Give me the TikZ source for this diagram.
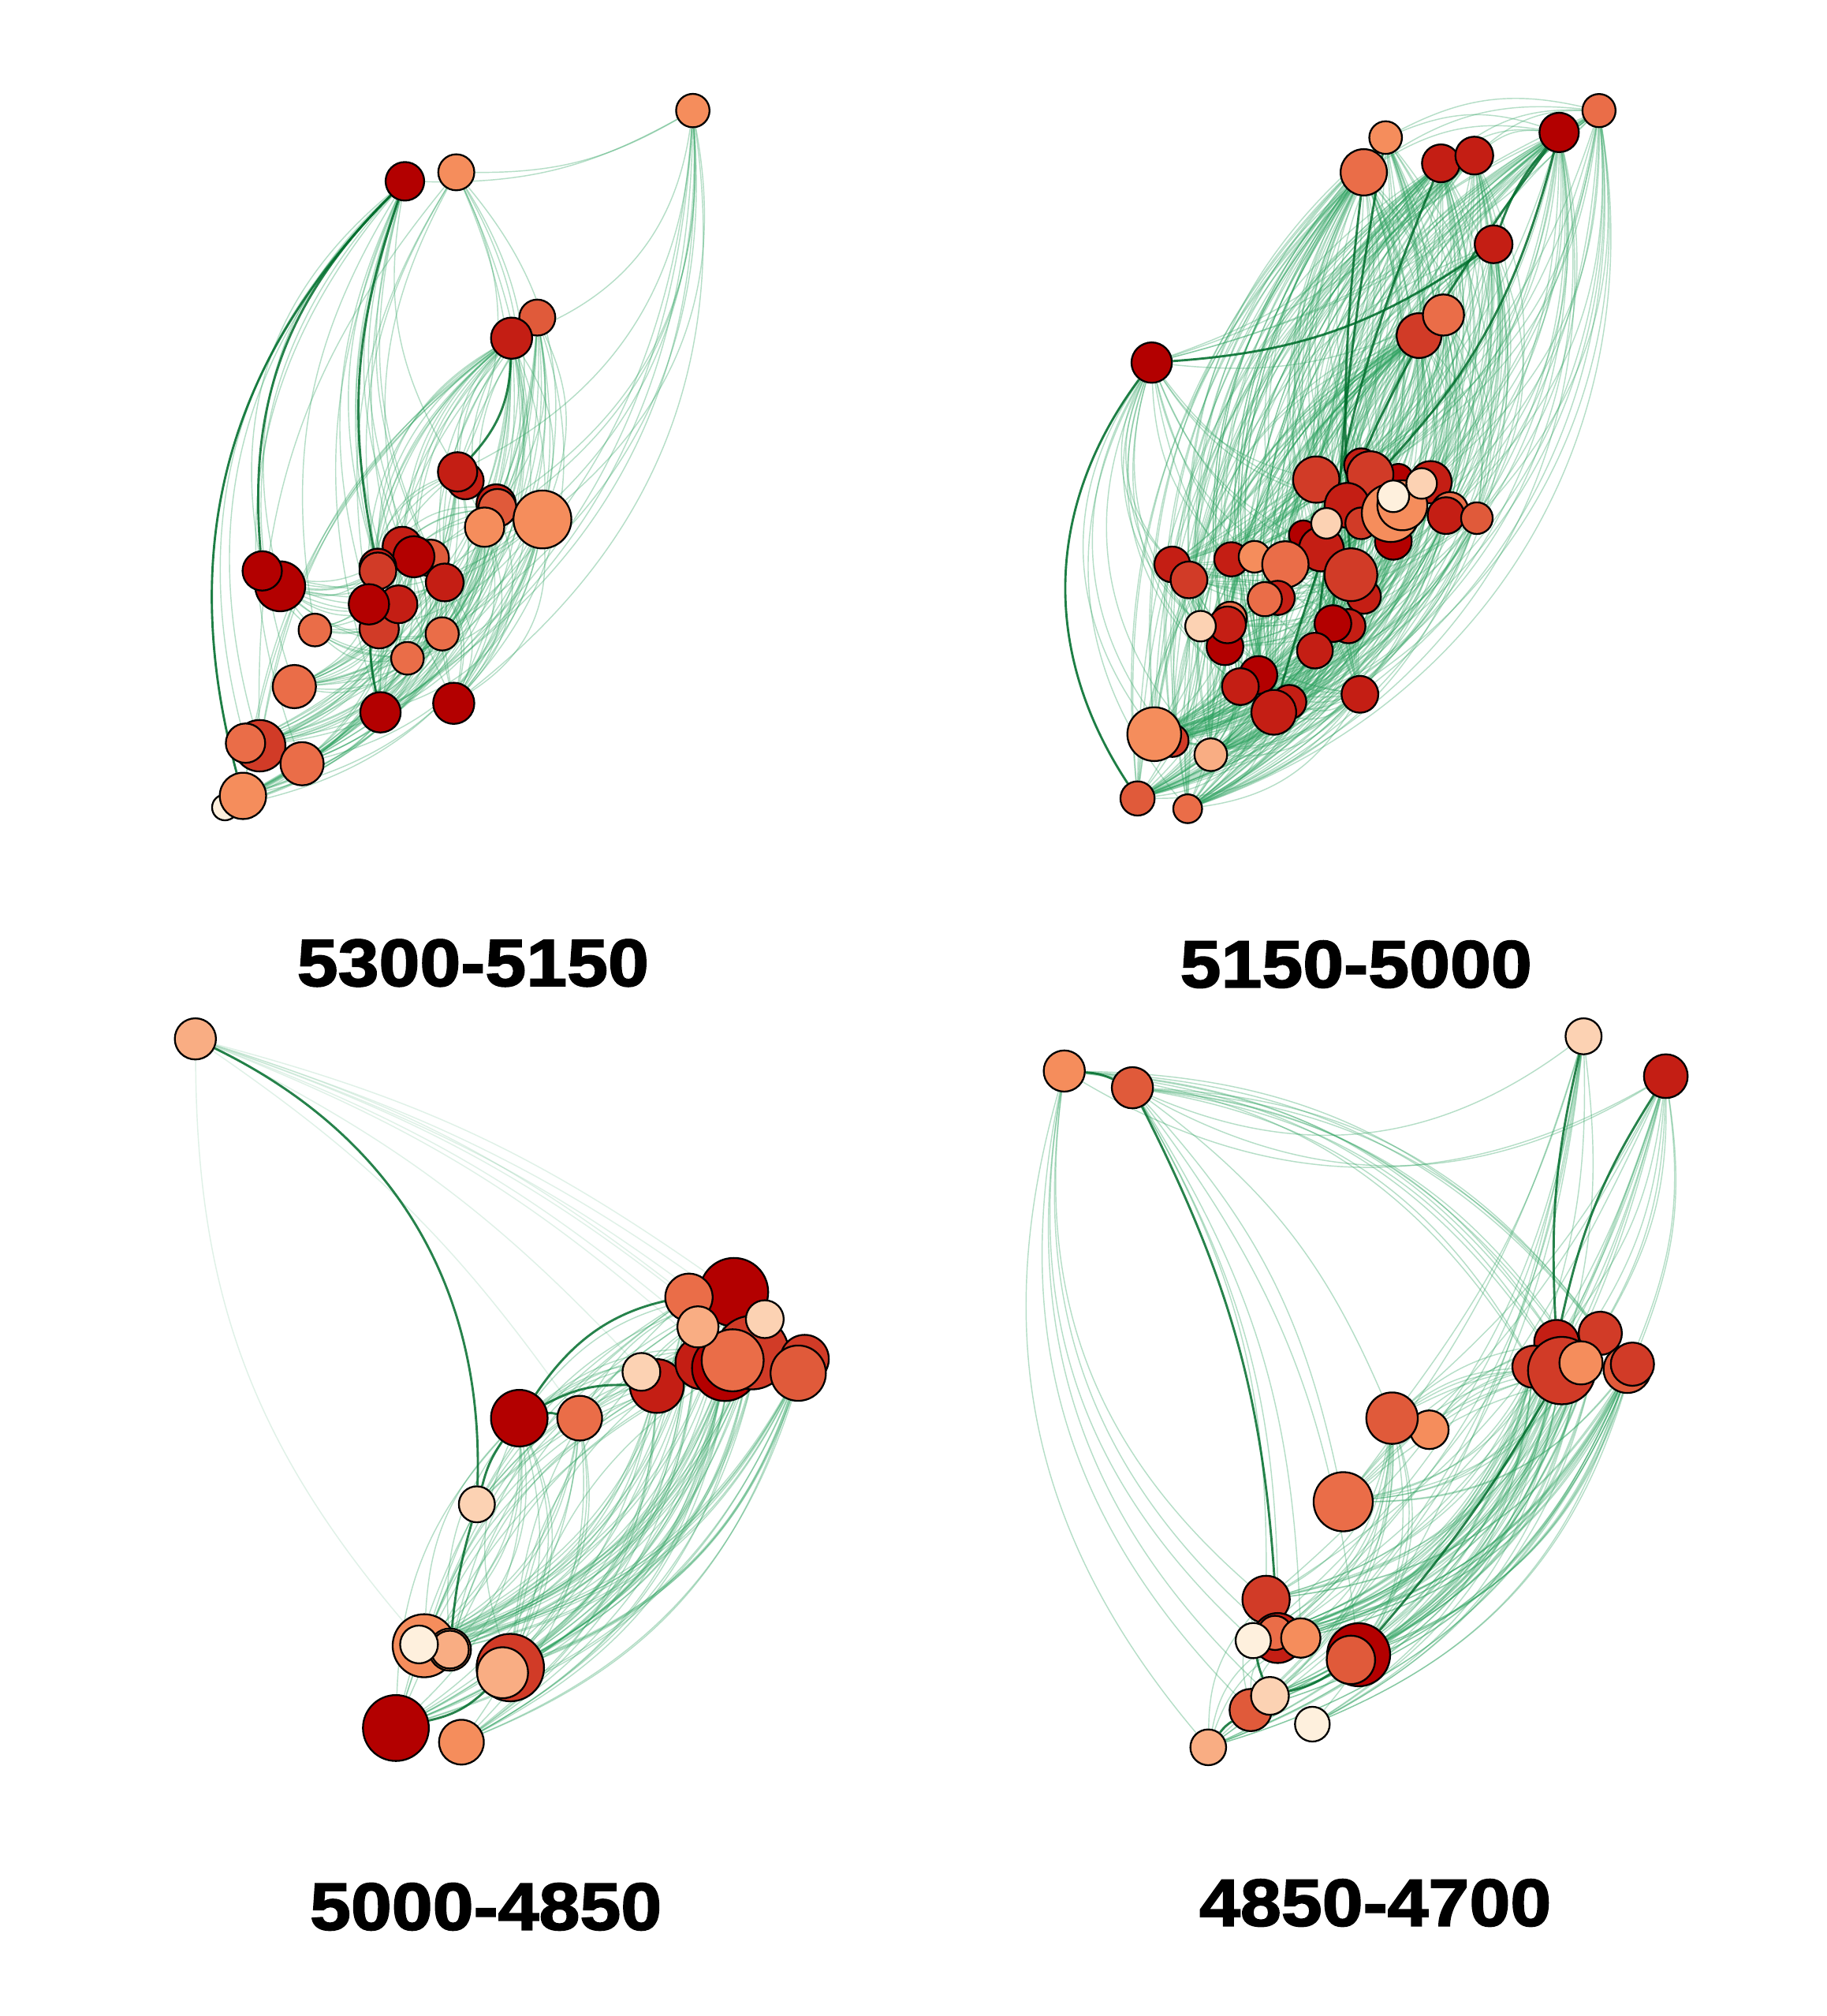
\documentclass[tikz,border=0pt]{standalone}
\usepackage{fontspec}
\newfontfamily\titlefont{Liberation Sans}[FakeStretch=1.1,FakeBold=2]
\usetikzlibrary{backgrounds}
\definecolor{c1}{HTML}{B30000}
\definecolor{c2}{HTML}{C41E14}
\definecolor{c3}{HTML}{D13B27}
\definecolor{c4}{HTML}{E05A3A}
\definecolor{c5}{HTML}{EA6D48}
\definecolor{c6}{HTML}{F58D5C}
\definecolor{c7}{HTML}{F9AD83}
\definecolor{c8}{HTML}{FCD2B3}
\definecolor{c9}{HTML}{FEF0DD}
\definecolor{edgeg}{HTML}{2CA25F}
\definecolor{edged}{HTML}{006D2C}
\tikzset{
  nd/.style={circle,draw=black,line width=0.4pt,inner sep=0pt},
  ed/.style={draw=edgeg,line width=0.25pt,draw opacity=0.35},
  edf/.style={draw=edgeg,line width=0.25pt,draw opacity=0.15},
  edd/.style={draw=edged,line width=0.5pt,draw opacity=0.85},
  ttl/.style={font=\titlefont\bfseries\fontsize{14.8}{16}\selectfont,inner sep=0pt}
}
\newcommand\Nd[5]{\node[nd,fill=#4,minimum size={#5*0.02cm}] (#1) at (#2,#3) {};}
\newcommand\Fan[3]{\foreach \sa in {#1}{\foreach \ta in {#2}{\draw[ed] (\sa) to[#3] (\ta);}}}
\newcommand\Fanf[3]{\foreach \sa in {#1}{\foreach \ta in {#2}{\draw[edf] (\sa) to[#3] (\ta);}}}
\newcommand\Dk[3]{\draw[edd] (#1) to[#3] (#2);}
\begin{document}
\begin{tikzpicture}[x=0.01cm,y=-0.01cm]
\useasboundingbox (0,0) rectangle (1421,1568);
% ---------------- panel 1
\Nd{A1}{539}{86}{c6}{13}
\Nd{A2}{315}{141}{c1}{15}
\Nd{A3}{355}{134}{c6}{14}
\Nd{A4}{418}{247}{c4}{14}
\Nd{A5}{398}{263}{c2}{16}
\Nd{A6}{362}{374}{c2}{14.3}
\Nd{A7}{356}{367}{c2}{15.3}
\Nd{A8}{386}{392}{c2}{15.3}
\Nd{A9}{387}{395}{c4}{14.7}
\Nd{A10}{377}{410}{c6}{15.3}
\Nd{A11}{422}{404}{c6}{22.5}
\Nd{A12}{313}{425}{c2}{15.3}
\Nd{A13}{335}{434}{c4}{14.3}
\Nd{A14}{322}{433}{c1}{16}
\Nd{A15}{294}{441}{c2}{14.3}
\Nd{A16}{294}{444}{c3}{14.3}
\Nd{A17}{346}{453}{c2}{14.7}
\Nd{A18}{218}{456}{c1}{19.4}
\Nd{A19}{204}{444}{c1}{15.3}
\Nd{A20}{295}{489}{c3}{15.3}
\Nd{A21}{310}{470}{c2}{14.7}
\Nd{A22}{287}{470}{c1}{15.7}
\Nd{A23}{245}{490}{c5}{12.7}
\Nd{A24}{344}{493}{c5}{12.9}
\Nd{A25}{317}{512}{c5}{12.7}
\Nd{A26}{229}{534}{c5}{16.8}
\Nd{A27}{296}{554}{c1}{15.7}
\Nd{A28}{353}{547}{c1}{16}
\Nd{A29}{202}{580}{c3}{20}
\Nd{A30}{191}{578}{c5}{15.3}
\Nd{A31}{235}{594}{c5}{16.8}
\Nd{A32}{175}{628}{c9}{10}
\Nd{A33}{189}{619}{c6}{18}
% ---------------- panel 2
\Nd{B1}{1244}{86}{c5}{12.9}
\Nd{B2}{1213}{103}{c1}{15.3}
\Nd{B3}{1078}{107}{c6}{12.7}
\Nd{B4}{1061}{134}{c5}{18}
\Nd{B5}{1121}{127}{c2}{14.7}
\Nd{B6}{1147}{121}{c2}{14.7}
\Nd{B7}{1162}{190}{c2}{14.7}
\Nd{B8}{896}{282}{c1}{15.7}
\Nd{B9}{1104}{261}{c3}{17.4}
\Nd{B10}{1123}{245}{c5}{16}
\Nd{B11}{1059}{362}{c2}{13.3}
\Nd{B12}{1088}{372}{c1}{11.2}
\Nd{B13}{1024}{373}{c3}{18}
\Nd{B14}{1066}{369}{c3}{18}
\Nd{B15}{1113}{375}{c2}{16.4}
\Nd{B16}{1048}{393}{c2}{17.4}
\Nd{B17}{1128}{397}{c5}{14.3}
\Nd{B18}{1125}{401}{c2}{14.3}
\Nd{B19}{1149}{403}{c4}{12.3}
\Nd{B20}{1059}{407}{c3}{12.3}
\Nd{B21}{1084}{421}{c1}{14.3}
\Nd{B22}{1082}{399}{c6}{22.5}
\Nd{B23}{1091}{393}{c6}{19.4}
\Nd{B24}{1084}{386}{c9}{12.3}
\Nd{B25}{1106}{376}{c8}{11.9}
\Nd{B26}{1014}{416}{c1}{11.2}
\Nd{B27}{1028}{427}{c2}{17.4}
\Nd{B29}{1061}{464}{c2}{13.3}
\Nd{B30}{1051}{447}{c3}{20.5}
\Nd{B28}{1032}{407}{c8}{11.9}
\Nd{B31}{958}{435}{c2}{13.3}
\Nd{B32}{976}{433}{c6}{12.3}
\Nd{B33}{1000}{439}{c5}{18}
\Nd{B34}{912}{439}{c2}{13.9}
\Nd{B35}{925}{451}{c3}{14.3}
\Nd{B36}{994}{465}{c2}{13.3}
\Nd{B37}{984}{466}{c5}{13.3}
\Nd{B38}{1049}{487}{c2}{13.3}
\Nd{B39}{1037}{485}{c1}{14.3}
\Nd{B40}{1023}{506}{c2}{13.9}
\Nd{B41}{953}{503}{c1}{14.3}
\Nd{B42}{957}{481}{c5}{13}
\Nd{B43}{955}{486}{c2}{14.3}
\Nd{B44}{934}{487}{c8}{11.9}
\Nd{B45}{979}{525}{c1}{14.7}
\Nd{B46}{965}{534}{c2}{14.3}
\Nd{B47}{1003}{546}{c2}{13.3}
\Nd{B48}{991}{554}{c2}{17.4}
\Nd{B49}{1058}{540}{c2}{14.3}
\Nd{B50}{912}{576}{c3}{12.7}
\Nd{B51}{898}{571}{c6}{20.9}
\Nd{B52}{942}{587}{c7}{12.7}
\Nd{B53}{885}{621}{c4}{13.3}
\Nd{B54}{924}{629}{c5}{11.2}
% ---------------- panel 3
\Nd{C1}{152}{808}{c7}{16}
\Nd{C2}{371}{1170}{c8}{14}
\Nd{C3}{404}{1103}{c1}{22}
\Nd{C4}{451}{1103}{c5}{17.4}
\Nd{C5}{511}{1078}{c2}{20.9}
\Nd{C6}{499}{1067}{c8}{14.7}
\Nd{C7}{571}{1005}{c1}{26.6}
\Nd{C8}{536}{1009}{c5}{18.4}
\Nd{C9}{546}{1060}{c2}{20.5}
\Nd{C10}{564}{1064}{c1}{25.6}
\Nd{C11}{585}{1052}{c3}{28.6}
\Nd{C15}{626}{1057}{c3}{18.8}
\Nd{C16}{621}{1068}{c4}{21.5}
\Nd{C12}{570}{1058}{c5}{24.1}
\Nd{C13}{543}{1032}{c7}{16}
\Nd{C14}{595}{1026}{c8}{14.7}
\Nd{C17}{330}{1280}{c6}{24.5}
\Nd{C18}{350}{1283}{c6}{16.4}
\Nd{C18b}{350}{1283}{c7}{14.7}
\Nd{C19}{326}{1279}{c9}{14.7}
\Nd{C20}{397}{1297}{c3}{26.2}
\Nd{C21}{391}{1301}{c7}{19.8}
\Nd{C22}{308}{1344}{c1}{25.6}
\Nd{C23}{359}{1355}{c6}{17.4}
% ---------------- panel 4
\Nd{D1}{828}{833}{c6}{16}
\Nd{D2}{881}{846}{c4}{16}
\Nd{D3}{1232}{806}{c8}{14}
\Nd{D4}{1296}{837}{c2}{17}
\Nd{D6}{1112}{1112}{c6}{15}
\Nd{D5}{1083}{1103}{c4}{20}
\Nd{D7}{1045}{1168}{c5}{23}
\Nd{D8}{1211}{1044}{c2}{17.4}
\Nd{D9}{1245}{1037}{c3}{16.8}
\Nd{D10}{1193}{1063}{c3}{16.4}
\Nd{D11}{1215}{1066}{c3}{26.2}
\Nd{D12}{1230}{1060}{c6}{16.8}
\Nd{D13}{1266}{1065}{c4}{18.4}
\Nd{D14}{1270}{1061}{c3}{16.8}
\Nd{D15}{985}{1244}{c3}{18.4}
\Nd{D16}{994}{1274}{c2}{19.4}
\Nd{D17}{992}{1270}{c5}{13.3}
\Nd{D18}{1012}{1274}{c6}{15.3}
\Nd{D19}{975}{1276}{c9}{13.7}
\Nd{D20}{1057}{1287}{c1}{24.5}
\Nd{D21}{1051}{1291}{c4}{18.8}
\Nd{D22}{973}{1330}{c4}{16.4}
\Nd{D23}{988}{1319}{c8}{14.7}
\Nd{D24}{1021}{1341}{c9}{13.5}
\Nd{D25}{940}{1359}{c7}{13.9}
% ---------------- titles
\node[ttl] (T1) at (368,749) {5300-5150};
\node[ttl] (T2) at (1055,750) {5150-5000};
\node[ttl] (T3) at (378,1483) {5000-4850};
\node[ttl] (T4) at (1070,1480) {4850-4700};
% ---------------- edges
\begin{pgfonlayer}{background}
\fill[white] (0,0) rectangle (1421,1568);
% panel 1
\Fan{A2}{A33,A29,A30,A26,A19,A18,A31}{bend right=30}
\Fan{A2}{A12,A14,A16,A22,A17,A27,A28,A21,A7,A13,A23,A25}{bend right=20}
\Fan{A2,A3}{A1}{bend right=15}
\Fan{A1}{A11,A10,A7,A9,A28,A27,A31,A33,A29,A24,A17,A5}{bend left=30}
\Fan{A3}{A11,A9,A10,A7,A28,A24}{bend left=25}
\Fan{A3}{A16,A22,A12,A29}{bend right=20}
\Fan{A4,A5}{A7,A10,A12,A14,A22,A27,A28,A29,A33,A17}{bend right=22}
\Fan{A4,A5}{A9,A11,A24,A28}{bend left=22}
\Fan{A33,A29,A30,A31,A26,A27,A28,A32,A25}{A11,A10,A9,A7,A14,A12,A17,A5,A4}{bend right=30}
\Fan{A18,A19,A23,A26}{A12,A14,A16,A17,A21,A24,A25,A11}{bend right=25}
\Fan{A22,A16,A20,A27}{A9,A11,A7,A5}{bend left=30}
\Dk{A2}{A33}{bend right=30}
\Dk{A2}{A19}{bend right=25}
\Dk{A2}{A16}{bend right=15}
\Dk{A5}{A7}{bend left=20}
\Dk{A12}{A27}{bend right=20}
% panel 2
\Fan{B8}{B53,B54,B51,B50,B52,B34,B35,B41,B46,B48,B45,B44}{bend right=35}
\Fan{B8}{B2,B1,B5,B6,B7,B10}{bend right=15}
\Fan{B8}{B13,B16,B22,B27,B31,B33,B30,B39,B40}{bend right=20}
\Fan{B51,B53,B54,B52,B50}{B1,B2,B3,B4,B5,B6,B7,B9,B10}{bend right=40}
\Fan{B51,B53,B54,B52,B50}{B11,B13,B14,B15,B16,B18,B19,B20,B21,B22,B23,B27,B30,B33,B31,B34,B35,B37,B39,B40,B41,B43,B45,B48,B49}{bend right=25}
\Fan{B51,B53,B54,B50,B52,B41,B46,B45,B48,B44}{B3,B4,B5,B6,B9,B10,B13}{bend left=25}
\Fan{B13,B16,B22,B27,B30,B33,B35,B39,B41,B45,B48,B49}{B1,B2,B3,B4,B5,B6,B7,B9,B10}{bend left=25}
\Fan{B11,B14,B15,B18,B19,B21,B31,B34,B37,B40,B43}{B1,B2,B3,B4,B5,B6,B7,B9,B10}{bend right=25}
\Fan{B2,B1}{B3,B4,B5,B6}{bend right=20}
\Fan{B34,B35,B41,B43,B46,B48,B45,B47}{B19,B15,B18,B49,B30,B22,B14,B11}{bend right=25}
\Fan{B31,B33,B37,B26,B28}{B29,B38,B19,B15}{bend left=20}
\Dk{B8}{B7}{bend right=15}
\Dk{B7}{B2}{bend left=10}
\Dk{B8}{B53}{bend right=35}
\Dk{B4}{B30}{bend right=5}
\Dk{B5}{B40}{bend right=8}
\Dk{B2}{B16}{bend left=15}
\Dk{B3}{B39}{bend right=4}
\Dk{B2}{B48}{bend right=10}
% panel 3
\Fanf{C1}{C7,C8,C10,C11,C15,C16,C5,C12,C4}{bend left=10}
\Fanf{C1}{C17}{bend right=20}
\Fan{C17,C18,C19,C20,C21,C22,C23}{C7,C8,C10,C11,C12,C15,C16,C14,C13,C5,C4,C3}{bend right=25}
\Fan{C17,C20,C22,C18}{C7,C11,C3,C5,C8}{bend left=20}
\Fan{C3,C4,C2}{C7,C11,C15,C16,C10}{bend left=20}
\Fan{C5,C6,C9}{C15,C16,C14}{bend left=25}
\Dk{C1}{C2}{bend left=33}
\Dk{C2}{C3}{bend left=10}
\Dk{C2}{C18}{bend right=5}
\Dk{C3}{C7}{bend left=25}
\Dk{C3}{C5}{bend left=15}
\Dk{C3}{C4}{bend left=10}
\Dk{C22}{C20}{bend right=15}
% panel 4
\Fan{D1,D2}{D4}{bend right=30}
\Fan{D2}{D3}{bend right=30}
\Fan{D1}{D15,D19,D22,D25,D16,D23}{bend right=28}
\Fan{D2}{D15,D16,D18,D20,D7,D5}{bend left=15}
\Fan{D1,D2}{D8,D10,D11,D12,D13,D9}{bend left=25}
\Fan{D3}{D11,D10,D5,D20,D7}{bend left=10}
\Fan{D4}{D8,D11,D13,D9,D14,D12}{bend left=15}
\Fan{D4}{D20,D21,D16,D7,D5}{bend left=10}
\Fan{D15,D16,D17,D18,D19,D20,D21,D22,D23,D24,D25,D7}{D8,D9,D10,D11,D12,D13,D14,D5}{bend right=25}
\Fan{D15,D16,D19,D22,D25}{D3,D4}{bend right=20}
\Fan{D5,D6,D7}{D8,D10,D11,D13}{bend left=15}
\Fan{D25,D22,D19}{D15,D16,D18}{bend left=20}
\Dk{D3}{D8}{bend right=8}
\Dk{D4}{D8}{bend right=10}
\Dk{D2}{D16}{bend left=12}
\Dk{D25}{D22}{bend left=10}
\Dk{D23}{D21}{bend right=10}
\Dk{D19}{D23}{bend right=5}
\Dk{D11}{D20}{bend left=5}
\Dk{D1}{D2}{bend left=10}
\end{pgfonlayer}
\end{tikzpicture}
\end{document}
